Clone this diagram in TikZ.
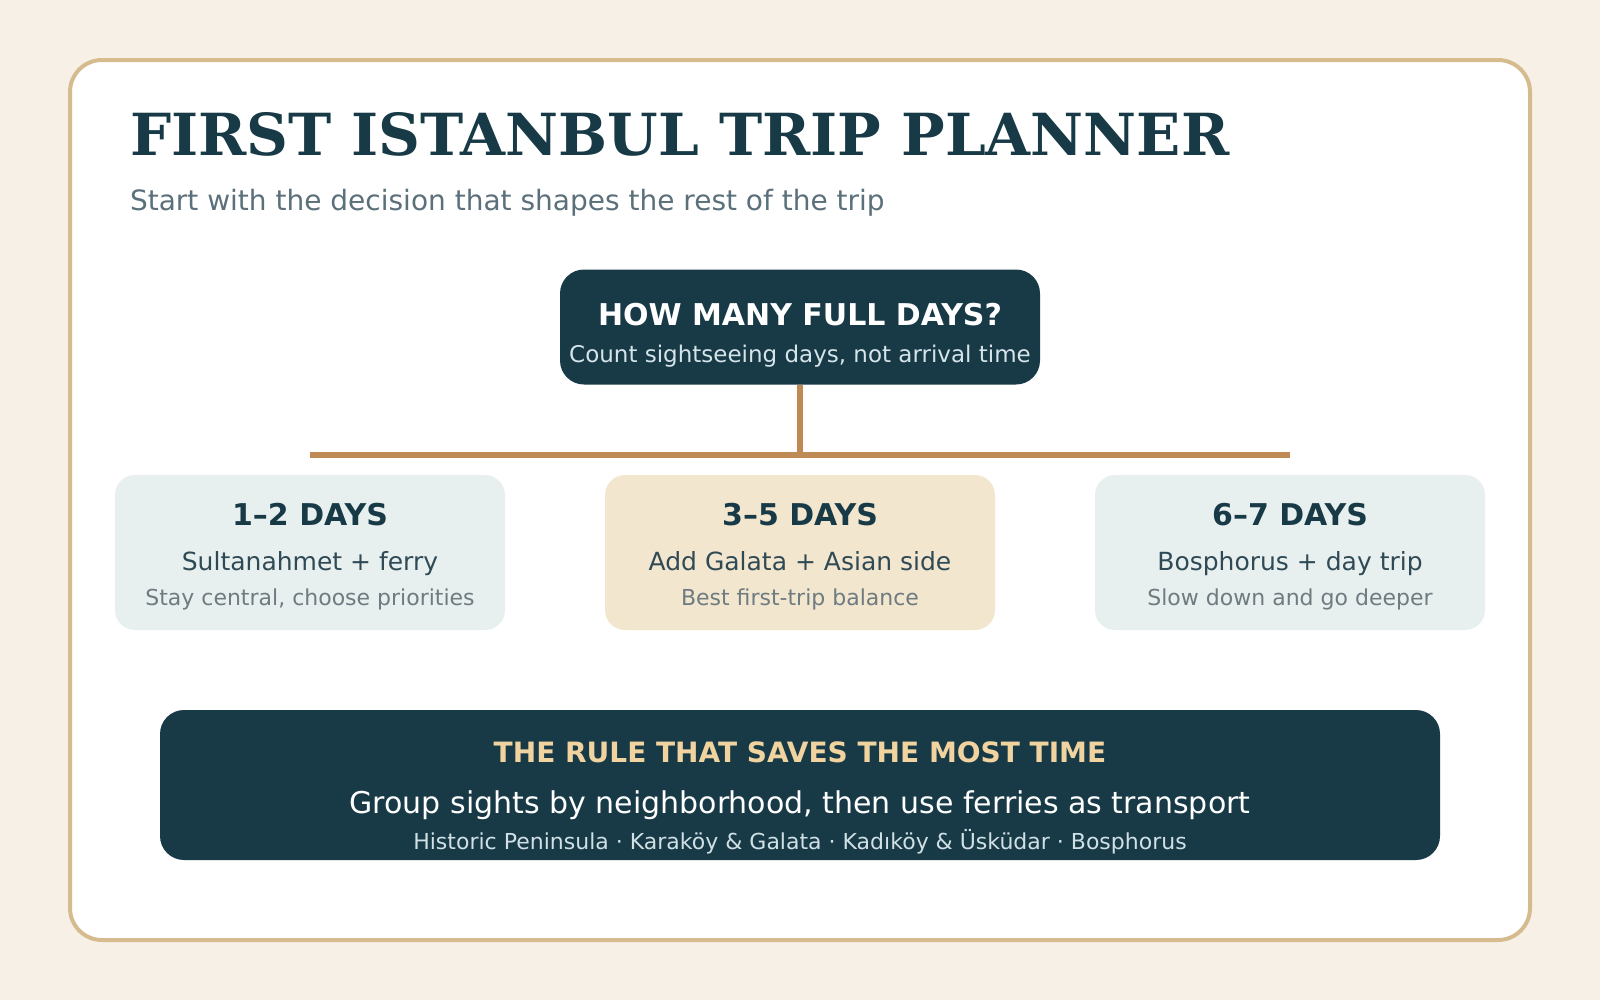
\documentclass[tikz,border=0pt]{standalone}
\usepackage{fontspec}
\setmainfont{DejaVu Sans}
\newfontfamily\serifbold{DejaVu Serif}
\definecolor{bgc}{HTML}{F7F0E6}
\definecolor{cardline}{HTML}{D6BB8E}
\definecolor{dark}{HTML}{183A47}
\definecolor{link}{HTML}{C08A55}
\definecolor{lightbox}{HTML}{E8F0EF}
\definecolor{beige}{HTML}{F3E6CF}
\definecolor{subgray}{HTML}{5B707A}
\definecolor{qsub}{HTML}{D5E4E8}
\definecolor{optsub}{HTML}{2F4A55}
\definecolor{optnote}{HTML}{6E7B80}
\definecolor{ruletitle}{HTML}{F1D3A0}
\definecolor{rulefoot}{HTML}{D0E0E4}
\tikzset{
  txt/.style={anchor=base, inner sep=0pt, outer sep=0pt},
  qbox/.style={fill=dark, rounded corners=18pt, minimum width=360pt, minimum height=86.25pt, inner sep=0pt},
  optbox/.style={rounded corners=15pt, minimum width=292.5pt, minimum height=116.25pt, inner sep=0pt},
  rulebox/.style={fill=dark, rounded corners=18pt, minimum width=960pt, minimum height=112.5pt, inner sep=0pt},
  optttl/.style={txt, text=dark, font=\fontsize{22.5}{26}\selectfont\bfseries},
  optmain/.style={txt, text=optsub, font=\fontsize{18.75}{22}\selectfont},
  optnt/.style={txt, text=optnote, font=\fontsize{16.5}{19}\selectfont},
  linkline/.style={draw=link, line width=4.5pt}
}
\begin{document}
\begin{tikzpicture}[x=0.75pt,y=-0.75pt]
\fill[bgc] (0,0) rectangle (1600,1000);
\useasboundingbox (0,0) rectangle (1600,1000);
\draw[draw=cardline, line width=3pt, fill=white, rounded corners=24pt] (70,60) rectangle (1530,940);

\node[txt, anchor=base west, text=dark, font=\serifbold\fontsize{43.5}{50}\selectfont\bfseries] (title) at (130,155) {FIRST ISTANBUL TRIP PLANNER};
\node[txt, anchor=base west, text=subgray, font=\fontsize{21}{25}\selectfont] (subtitle) at (130,210) {Start with the decision that shapes the rest of the trip};

\node[qbox] (q) at (800,327) {};
\node[txt, text=white, font=\fontsize{22.5}{26}\selectfont\bfseries] (qt) at (800,325) {HOW MANY FULL DAYS?};
\node[txt, text=qsub, font=\fontsize{17.25}{20}\selectfont] (qs) at (800,362) {Count sightseeing days, not arrival time};

\node[optbox, fill=lightbox] (o1) at (310,552.5) {};
\node[optbox, fill=beige] (o2) at (800,552.5) {};
\node[optbox, fill=lightbox] (o3) at (1290,552.5) {};

\coordinate (j) at (800,455);
\coordinate (jl) at (310,455);
\coordinate (jr) at (1290,455);
\draw[linkline] (q.south) -- (j);
\draw[linkline] (jl) -- (jr);

\node[optttl] (o1t) at (310,525) {1–2 DAYS};
\node[optmain] (o1m) at (310,570) {Sultanahmet + ferry};
\node[optnt] (o1n) at (310,605) {Stay central, choose priorities};

\node[optttl] (o2t) at (800,525) {3–5 DAYS};
\node[optmain] (o2m) at (800,570) {Add Galata + Asian side};
\node[optnt] (o2n) at (800,605) {Best first-trip balance};

\node[optttl] (o3t) at (1290,525) {6–7 DAYS};
\node[optmain] (o3m) at (1290,570) {Bosphorus + day trip};
\node[optnt] (o3n) at (1290,605) {Slow down and go deeper};

\node[rulebox] (r) at (800,785) {};
\node[txt, text=ruletitle, font=\fontsize{21}{25}\selectfont\bfseries] (rt) at (800,762) {THE RULE THAT SAVES THE MOST TIME};
\node[txt, text=white, font=\fontsize{22.5}{27}\selectfont] (rm) at (800,813) {Group sights by neighborhood, then use ferries as transport};
\node[txt, text=rulefoot, font=\fontsize{16.5}{19}\selectfont] (rf) at (800,849) {Historic Peninsula · Karaköy \& Galata · Kadıköy \& Üsküdar · Bosphorus};
\end{tikzpicture}
\end{document}
